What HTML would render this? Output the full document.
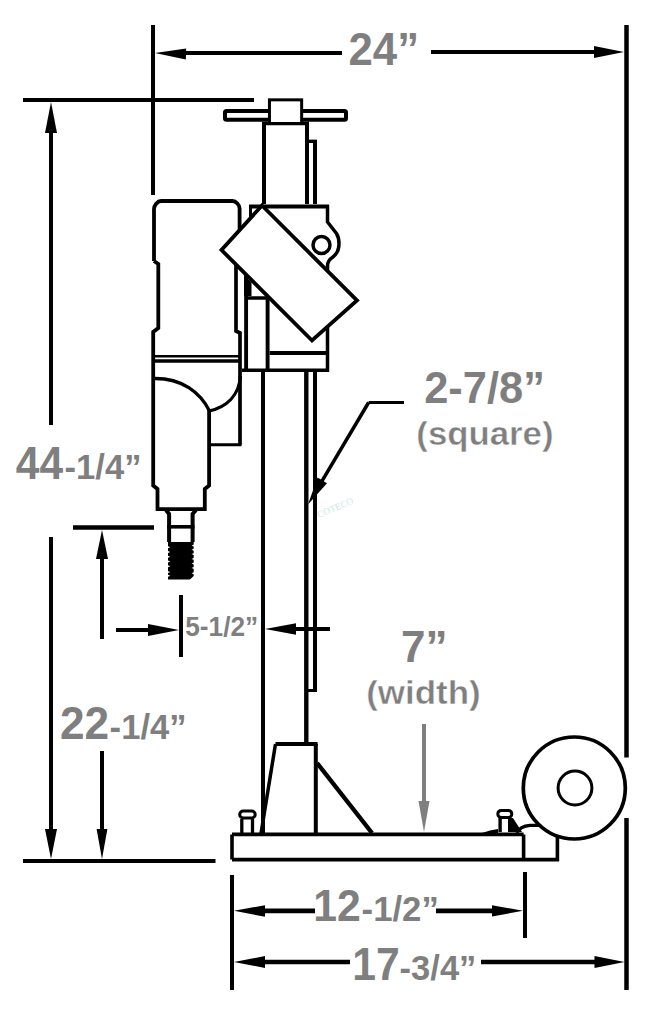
<!DOCTYPE html>
<html><head><meta charset="utf-8"><style>
html,body{margin:0;padding:0;background:#fff;width:660px;height:1024px;overflow:hidden}
svg{display:block}
text{font-family:"Liberation Sans",sans-serif;font-weight:bold}
</style></head><body>
<svg width="660" height="1024" viewBox="0 0 660 1024">
<line x1="153" y1="25" x2="153" y2="195" stroke="#000" stroke-width="4" stroke-linecap="butt"/>
<line x1="626.5" y1="25" x2="626.5" y2="757.5" stroke="#000" stroke-width="4.5" stroke-linecap="butt"/>
<line x1="626.5" y1="818" x2="626.5" y2="990" stroke="#000" stroke-width="4.5" stroke-linecap="butt"/>
<line x1="185" y1="53" x2="342" y2="53" stroke="#000" stroke-width="4" stroke-linecap="butt"/>
<line x1="431" y1="52" x2="595" y2="52" stroke="#000" stroke-width="4" stroke-linecap="butt"/>
<polygon points="155,53 185.82589701234082,59.39719261743438 186.17410298765918,48.60280738256562" fill="#000"/>
<polygon points="624,52 594.0,46.0 594.0,58.0" fill="#000"/>
<line x1="23" y1="100" x2="254" y2="100" stroke="#000" stroke-width="4" stroke-linecap="butt"/>
<line x1="51" y1="132" x2="51" y2="425" stroke="#000" stroke-width="4" stroke-linecap="butt"/>
<line x1="51" y1="537" x2="51" y2="830" stroke="#000" stroke-width="4" stroke-linecap="butt"/>
<polygon points="51,102 45.0,133.0 57.0,133.0" fill="#000"/>
<polygon points="51,859 57.0,829.0 45.0,829.0" fill="#000"/>
<line x1="23" y1="861" x2="215.5" y2="861" stroke="#000" stroke-width="4" stroke-linecap="butt"/>
<line x1="73" y1="527.5" x2="154" y2="527.5" stroke="#000" stroke-width="4.5" stroke-linecap="butt"/>
<line x1="102" y1="558" x2="102" y2="639" stroke="#000" stroke-width="4" stroke-linecap="butt"/>
<line x1="102" y1="751" x2="102" y2="830" stroke="#000" stroke-width="4" stroke-linecap="butt"/>
<polygon points="102,530 96.0,559.0 108.0,559.0" fill="#000"/>
<polygon points="102,859 107.4,829.0 96.6,829.0" fill="#000"/>
<line x1="181" y1="595" x2="181" y2="657" stroke="#000" stroke-width="4" stroke-linecap="butt"/>
<line x1="116" y1="630" x2="149" y2="630" stroke="#000" stroke-width="4" stroke-linecap="butt"/>
<polygon points="179,630 148.0,624.0 148.0,636.0" fill="#000"/>
<line x1="295" y1="629" x2="330" y2="629" stroke="#000" stroke-width="4" stroke-linecap="butt"/>
<polygon points="265,629 296.0,634.8 296.0,623.2" fill="#000"/>
<line x1="232" y1="875" x2="232" y2="990" stroke="#000" stroke-width="4" stroke-linecap="butt"/>
<line x1="525" y1="872" x2="525" y2="938" stroke="#000" stroke-width="4" stroke-linecap="butt"/>
<line x1="264" y1="910.8" x2="315" y2="910.8" stroke="#000" stroke-width="4.8" stroke-linecap="butt"/>
<line x1="436" y1="910.8" x2="493" y2="910.8" stroke="#000" stroke-width="4.8" stroke-linecap="butt"/>
<polygon points="234,910.8 264.96258142389564,916.7998792961718 265.03741857610436,905.2001207038282" fill="#000"/>
<polygon points="523,910.8 492.0,905.1999999999999 492.0,916.4" fill="#000"/>
<line x1="264" y1="962" x2="350" y2="962" stroke="#000" stroke-width="4.5" stroke-linecap="butt"/>
<line x1="481" y1="962" x2="595.5" y2="962" stroke="#000" stroke-width="4.5" stroke-linecap="butt"/>
<polygon points="234,962 265.0,968.0 265.0,956.0" fill="#000"/>
<polygon points="624.5,962 594.5,956.0 594.5,968.0" fill="#000"/>
<line x1="368.6" y1="402.5" x2="404" y2="402.5" stroke="#000" stroke-width="3" stroke-linecap="butt"/>
<path d="M368.6,402.5 L321.8,481.3" stroke="#000" stroke-width="3.5" fill="none" stroke-linejoin="miter"/>
<polygon points="308,504.5 327.03000863245074,483.206602632533 317.5699913675493,477.59339736746693" fill="#000"/>
<line x1="424" y1="724" x2="424" y2="802" stroke="#7f7f7f" stroke-width="4" stroke-linecap="butt"/>
<polygon points="424,832 429.5,801.0 418.5,801.0" fill="#7f7f7f"/>
<line x1="315" y1="141" x2="315" y2="204" stroke="#000" stroke-width="4" stroke-linecap="butt"/>
<line x1="315" y1="371" x2="315" y2="692" stroke="#000" stroke-width="4" stroke-linecap="butt"/>
<line x1="309" y1="141.3" x2="317" y2="141.3" stroke="#000" stroke-width="3.4" stroke-linecap="butt"/>
<line x1="308" y1="690.5" x2="317" y2="690.5" stroke="#000" stroke-width="3" stroke-linecap="butt"/>
<line x1="264" y1="122" x2="264" y2="204" stroke="#000" stroke-width="4" stroke-linecap="butt"/>
<line x1="307" y1="122" x2="307" y2="204" stroke="#000" stroke-width="4" stroke-linecap="butt"/>
<line x1="263" y1="370" x2="263" y2="833" stroke="#000" stroke-width="4" stroke-linecap="butt"/>
<line x1="306.3" y1="371" x2="306.3" y2="744" stroke="#000" stroke-width="4.4" stroke-linecap="butt"/>
<line x1="262" y1="123.5" x2="309" y2="123.5" stroke="#000" stroke-width="3.4" stroke-linecap="butt"/>
<rect x="225" y="110.9" width="121" height="8.8" rx="1.5" fill="none" stroke="#000" stroke-width="4"/>
<rect x="269.45" y="99.85" width="32.2" height="23.65" fill="#fff" stroke="#000" stroke-width="3"/>
<line x1="249" y1="206.5" x2="329" y2="206.5" stroke="#000" stroke-width="4" stroke-linecap="butt"/>
<path d="M327.5,205 V222 L336.5,233.5 Q339,237.5 339,244 Q339,252 333,257 Q327.5,260.5 327.5,266 V372" stroke="#000" stroke-width="3.5" fill="none" stroke-linejoin="miter"/>
<line x1="241.8" y1="370.3" x2="329" y2="370.3" stroke="#000" stroke-width="3.5" stroke-linecap="butt"/>
<line x1="269.6" y1="353" x2="328" y2="353" stroke="#000" stroke-width="4" stroke-linecap="butt"/>
<circle cx="321.5" cy="245" r="8.5" fill="none" stroke="#000" stroke-width="3.5"/>
<line x1="250.5" y1="205" x2="250.5" y2="217" stroke="#000" stroke-width="3" stroke-linecap="butt"/>
<line x1="246.1" y1="274" x2="246.1" y2="370" stroke="#000" stroke-width="3.9" stroke-linecap="butt"/>
<polygon points="244,276 251.5,282 251.5,296 244,296" fill="#000"/>
<line x1="248" y1="298" x2="266" y2="298" stroke="#000" stroke-width="3.5" stroke-linecap="butt"/>
<line x1="267.6" y1="296" x2="267.6" y2="370" stroke="#000" stroke-width="3.9" stroke-linecap="butt"/>
<path d="M154,261 V209 C154,205.5 157.5,201 161,201 H232.5 C236,201 239.6,205 239.6,208.5 V232" stroke="#000" stroke-width="3.8" fill="none" stroke-linejoin="miter"/>
<path d="M154,261 L158.3,264 V328 L153.2,332 V485.5 L157.5,489 V509.2 H204.8 V489 L209.1,485.5 V410" stroke="#000" stroke-width="3.8" fill="none" stroke-linejoin="miter"/>
<path d="M236,262 V331 L240,333 V444.8" stroke="#000" stroke-width="3.7" fill="none" stroke-linejoin="miter"/>
<line x1="209" y1="444.8" x2="241.5" y2="444.8" stroke="#000" stroke-width="3" stroke-linecap="butt"/>
<line x1="152" y1="356.25" x2="241" y2="356.25" stroke="#000" stroke-width="2.5" stroke-linecap="butt"/>
<line x1="152" y1="361" x2="241" y2="361" stroke="#000" stroke-width="3.4" stroke-linecap="butt"/>
<path d="M155,378.5 C182,378.5 200,392 209.5,411" stroke="#000" stroke-width="3.3" fill="none" stroke-linejoin="miter"/>
<path d="M209,411 C226,407 239,396 240.5,376" stroke="#000" stroke-width="3.3" fill="none" stroke-linejoin="miter"/>
<path d="M166,510 L169.1,514 V542" stroke="#000" stroke-width="4" fill="none" stroke-linejoin="miter"/>
<path d="M196,510 L192.6,514 V542" stroke="#000" stroke-width="4" fill="none" stroke-linejoin="miter"/>
<line x1="167" y1="526.8" x2="194.5" y2="526.8" stroke="#000" stroke-width="3.6" stroke-linecap="butt"/>
<rect x="168" y="542" width="25.7" height="37.5" fill="#000"/>
<polygon points="167.5,546.0 170.3,547.2 167.5,548.4000000000001" fill="#fff"/>
<polygon points="167.5,550.8 170.3,552 167.5,553.2" fill="#fff"/>
<polygon points="167.5,555.5 170.3,556.7 167.5,557.9000000000001" fill="#fff"/>
<polygon points="167.5,560.3 170.3,561.5 167.5,562.7" fill="#fff"/>
<polygon points="167.5,565.0999999999999 170.3,566.3 167.5,567.5" fill="#fff"/>
<polygon points="167.5,570.9 170.3,572.1 167.5,573.3000000000001" fill="#fff"/>
<polygon points="167.5,574.5999999999999 170.3,575.8 167.5,577.0" fill="#fff"/>
<polygon points="194.2,544.4 191.6,545.6 194.2,546.8000000000001" fill="#fff"/>
<polygon points="194.2,548.5999999999999 191.6,549.8 194.2,551.0" fill="#fff"/>
<polygon points="194.2,552.9 191.6,554.1 194.2,555.3000000000001" fill="#fff"/>
<polygon points="194.2,557.6999999999999 191.6,558.9 194.2,560.1" fill="#fff"/>
<polygon points="194.2,562.4 191.6,563.6 194.2,564.8000000000001" fill="#fff"/>
<polygon points="194.2,566.6999999999999 191.6,567.9 194.2,569.1" fill="#fff"/>
<polygon points="194.2,572.0 191.6,573.2 194.2,574.4000000000001" fill="#fff"/>
<polygon points="189.5,580 194.2,575.5 194.2,580" fill="#fff"/>
<polygon points="262,205.5 357,300.5 312,340.5 221.5,250" fill="#fff" stroke="#000" stroke-width="3.8" stroke-linejoin="miter"/>
<line x1="275.5" y1="744" x2="317.6" y2="744" stroke="#000" stroke-width="4" stroke-linecap="butt"/>
<path d="M275.5,744 L261,833.5" stroke="#000" stroke-width="3.5" fill="none" stroke-linejoin="miter"/>
<line x1="315.8" y1="744" x2="315.8" y2="833" stroke="#000" stroke-width="4" stroke-linecap="butt"/>
<line x1="317" y1="763" x2="372" y2="833" stroke="#000" stroke-width="4.4" stroke-linecap="butt"/>
<path d="M232,834.4 H523.6 M232,859.6 H557.4 V836 M523.6,834.4 V859.6 M232,834.4 V859.6" stroke="#000" stroke-width="3.6" fill="none" stroke-linejoin="miter"/>
<rect x="239.7" y="811" width="15.5" height="7" rx="3.5" fill="#fff" stroke="#000" stroke-width="3"/>
<line x1="241.8" y1="819" x2="241.8" y2="833" stroke="#000" stroke-width="3.3" stroke-linecap="butt"/>
<line x1="252.5" y1="819" x2="252.5" y2="833" stroke="#000" stroke-width="3.3" stroke-linecap="butt"/>
<rect x="497.8" y="810.4" width="14" height="7" rx="3.5" fill="#fff" stroke="#000" stroke-width="3"/>
<line x1="500.1" y1="818" x2="500.1" y2="832" stroke="#000" stroke-width="3.4" stroke-linecap="butt"/>
<line x1="510.5" y1="818" x2="510.5" y2="832" stroke="#000" stroke-width="3.9" stroke-linecap="butt"/>
<polygon points="508,818 513,818 522,832 508,832" fill="#000"/>
<polygon points="482,833 490,830.5 498,829 498,833" fill="#000"/>
<path d="M516.8,833 Q520,826 530,825.3 L540,825.3" stroke="#000" stroke-width="3.2" fill="none" stroke-linejoin="miter"/>
<circle cx="574.3" cy="788" r="51" fill="#fff" stroke="#000" stroke-width="3.7"/>
<circle cx="575" cy="788" r="16.9" fill="none" stroke="#000" stroke-width="3"/>
<text transform="translate(348.5,64.7) scale(0.96,1)" font-size="45.6" fill="#7f7f7f" >24&#8221;</text>
<text transform="translate(15.85,479) scale(0.915,1)" font-size="46.5" fill="#7f7f7f" >44</text>
<text transform="translate(64.6,478.9) scale(0.971,1)" font-size="35.6" fill="#7f7f7f" >-1/4&#8221;</text>
<text transform="translate(59.9,738.7) scale(0.974,1)" font-size="45.4" fill="#7f7f7f" >22</text>
<text transform="translate(109.6,738.9) scale(0.97,1)" font-size="35.7" fill="#7f7f7f" >-1/4&#8221;</text>
<text transform="translate(185.2,635.5) scale(0.977,1)" font-size="26.9" fill="#7f7f7f" >5-1/2&#8221;</text>
<text transform="translate(424.2,402.8) scale(0.972,1)" font-size="44.7" fill="#7f7f7f" >2-7/8&#8221;</text>
<text transform="translate(416.3,444.9) scale(1.029,1)" font-size="33.8" fill="#7f7f7f" stroke="#fff" stroke-width="0.45">(square)</text>
<text transform="translate(400.9,661.8) scale(0.983,1)" font-size="44.8" fill="#7f7f7f" >7&#8221;</text>
<text transform="translate(366.2,704.1) scale(1.044,1)" font-size="33.5" fill="#7f7f7f" stroke="#fff" stroke-width="0.45">(width)</text>
<text transform="translate(313.3,921) scale(0.957,1)" font-size="44.7" fill="#7f7f7f" >12</text>
<text transform="translate(361.6,921) scale(0.965,1)" font-size="36" fill="#7f7f7f" >-1/2&#8221;</text>
<text transform="translate(352.3,979.6) scale(0.938,1)" font-size="45.5" fill="#7f7f7f" >17</text>
<text transform="translate(399.6,980.2) scale(0.97,1)" font-size="35.6" fill="#7f7f7f" >-3/4&#8221;</text>
<text transform="translate(319,518) rotate(-23)" font-size="9.5" fill="#b8e2dc" style="font-family:'Liberation Serif',serif;font-weight:normal" opacity="0.7">COTECO</text>
</svg>
</body></html>
